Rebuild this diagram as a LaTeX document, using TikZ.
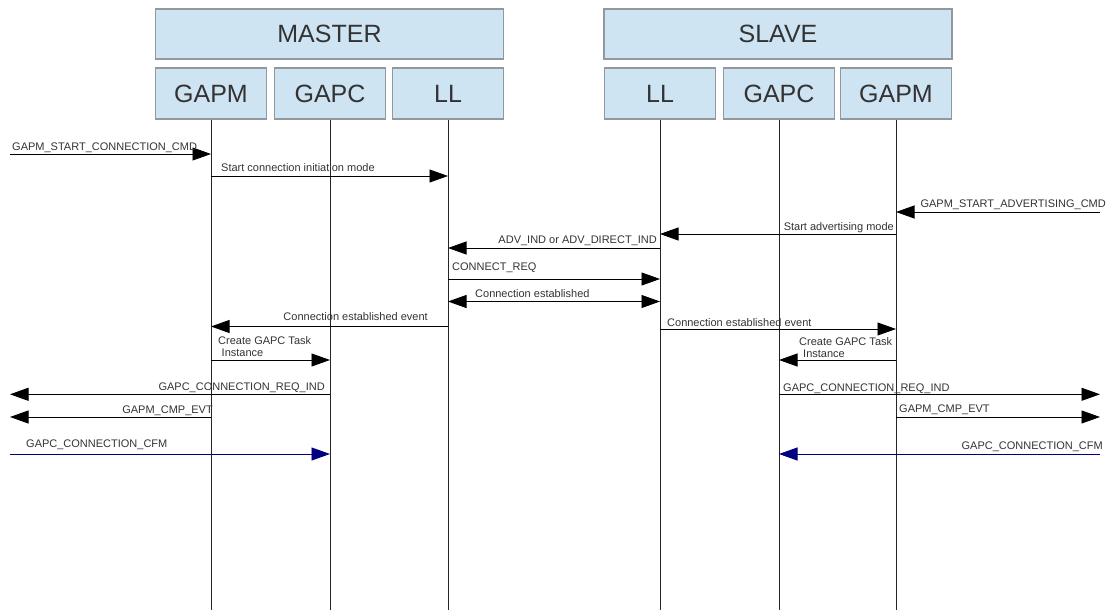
\documentclass[tikz,border=0pt]{standalone}
\usepackage{fontspec}
\setmainfont{Liberation Sans}
\usetikzlibrary{arrows.meta}
\definecolor{boxfill}{RGB}{207,228,242}
\definecolor{boxline}{RGB}{145,152,158}
\definecolor{ink}{RGB}{51,51,51}
\definecolor{cfmblue}{RGB}{0,0,128}
\tikzset{big/.tip={Triangle[length=18.5pt,width=13pt]}}
\begin{document}
\begin{tikzpicture}[x=1pt,y=-1pt,
  hdr/.style={draw=boxline, fill=boxfill, line width=1.1pt, text=ink,
    font=\fontsize{25}{30}\selectfont, inner sep=0pt},
  role/.style={hdr, minimum width=111pt, minimum height=51pt},
  group/.style={hdr, minimum width=348pt, minimum height=50pt},
  life/.style={draw=black!85, line width=0.9pt},
  msg/.style={draw=black, line width=0.9pt, -big},
  both/.style={draw=black, line width=0.9pt, big-big},
  cfm/.style={draw=cfmblue, line width=0.9pt, -big},
  lbl/.style={text=ink, font=\fontsize{11}{12.4}\selectfont, inner sep=0pt},
]
\useasboundingbox (0,0) rectangle (1112,610);

% group headers
\node[group] (master) at (329.5,34) {MASTER};
\node[group] (slave)  at (778,34)   {SLAVE};

% participants
\node[role] (mgapm) at (211,93.5) {GAPM};
\node[role] (mgapc) at (330,93.5) {GAPC};
\node[role] (mll)   at (448,93.5) {LL};
\node[role] (sll)   at (660,93.5) {LL};
\node[role] (sgapc) at (779,93.5) {GAPC};
\node[role] (sgapm) at (896,93.5) {GAPM};

% environment ends and bottom of the lifelines
\coordinate (envL) at (10,0);
\coordinate (envR) at (1100,0);
\coordinate (bottom) at (0,610);

% lifelines
\foreach \p in {mgapm,mgapc,mll,sll,sgapc,sgapm}
  \draw[life] (\p.south) -- (\p |- bottom);

% messages
\draw[msg] (envL |- 0,154) -- (mgapm |- 0,154);
\node[lbl, anchor=base west] (t1) at (12,150) {GAPM\_START\_CONNECTION\_CMD};

\draw[msg] (mgapm |- 0,176) -- (mll |- 0,176);
\node[lbl, anchor=base west] (t2) at (221,171.5) {Start connection initiation mode};

\draw[msg] (envR |- 0,212) -- (sgapm |- 0,212);
\node[lbl, anchor=base east] (t3) at (1106,207) {GAPM\_START\_ADVERTISING\_CMD};

\draw[msg] (sgapm |- 0,234) -- (sll |- 0,234);
\node[lbl, anchor=base east] (t4) at (894,230) {Start advertising mode};

\draw[msg] (sll |- 0,248) -- (mll |- 0,248);
\node[lbl, anchor=base east] (t5) at (657,243) {ADV\_IND or ADV\_DIRECT\_IND};

\draw[msg] (mll |- 0,279) -- (sll |- 0,279);
\node[lbl, anchor=base west] (t6) at (452,270.5) {CONNECT\_REQ};

\draw[both] (mll |- 0,301.5) -- (sll |- 0,301.5);
\node[lbl, anchor=base west] (t7) at (475,297) {Connection established};

\draw[msg] (mll |- 0,326.5) -- (mgapm |- 0,326.5);
\node[lbl, anchor=base east] (t8) at (428,320.5) {Connection established event};

\draw[msg] (sll |- 0,329) -- (sgapm |- 0,329);
\node[lbl, anchor=base west] (t9) at (667,326) {Connection established event};

\draw[msg] (mgapm |- 0,360) -- (mgapc |- 0,360);
\node[lbl, anchor=base west] (t10a) at (218,344.3) {Create GAPC Task};
\node[lbl, anchor=base west] (t10b) at (221.5,356.7) {Instance};

\draw[msg] (sgapm |- 0,360) -- (sgapc |- 0,360);
\node[lbl, anchor=base west] (t11a) at (799,345.7) {Create GAPC Task};
\node[lbl, anchor=base west] (t11b) at (803,357.5) {Instance};

\draw[msg] (mgapc |- 0,394.3) -- (envL |- 0,394.3);
\node[lbl, anchor=base east] (t12) at (325,390) {GAPC\_CONNECTION\_REQ\_IND};

\draw[msg] (mgapm |- 0,417) -- (envL |- 0,417);
\node[lbl, anchor=base east] (t13) at (213,413.3) {GAPM\_CMP\_EVT};

\draw[cfm] (envL |- 0,454) -- (mgapc |- 0,454);
\node[lbl, anchor=base west] (t14) at (26,447.3) {GAPC\_CONNECTION\_CFM};

\draw[msg] (sgapc |- 0,394.3) -- (envR |- 0,394.3);
\node[lbl, anchor=base west] (t15) at (783,391.5) {GAPC\_CONNECTION\_REQ\_IND};

\draw[msg] (sgapm |- 0,417) -- (envR |- 0,417);
\node[lbl, anchor=base west] (t16) at (899,412.5) {GAPM\_CMP\_EVT};

\draw[cfm] (envR |- 0,454) -- (sgapc |- 0,454);
\node[lbl, anchor=base east] (t17) at (1103,449) {GAPC\_CONNECTION\_CFM};
\end{tikzpicture}
\end{document}
